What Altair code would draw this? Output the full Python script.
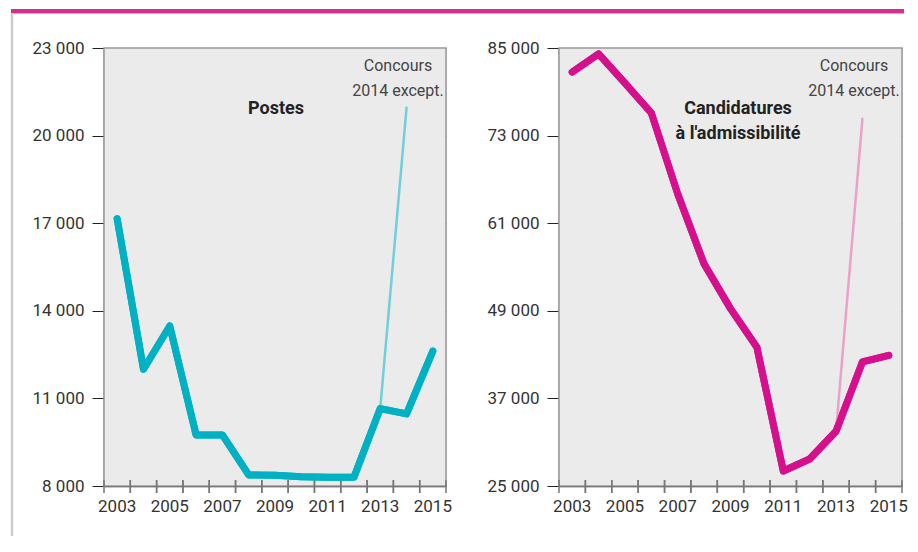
import altair as alt
import pandas as pd

years = list(range(2003, 2016))
postes = [17150, 12000, 13480, 9750, 9750, 8380, 8370, 8320, 8300, 8300, 10650, 10470, 12620]
candidatures = [81700, 84200, 80200, 76100, 65000, 55400, 49300, 44000, 27050, 28700, 32500, 42000, 42900]
except_years = [2013, 2014]
postes_except = [10650, 20950]
cand_except = [32500, 75300]

FONT = "Roboto"
W_L, W_R, H = 342, 343, 438

df_p = pd.DataFrame({"year": years, "v": postes})
df_pe = pd.DataFrame({"year": except_years, "v": postes_except})
df_c = pd.DataFrame({"year": years, "v": candidatures})
df_ce = pd.DataFrame({"year": except_years, "v": cand_except})
df_y = pd.DataFrame({"year": years})
one = pd.DataFrame({"a": [0]})

fmt = "replace(format(datum.value, ',d'), ',', ' ')"


def panel(df, dfe, domain, step, main_col, light_col, title_lines, title_x, title_y, width, frame=False):
    xscale = alt.Scale(type="band", domain=years, paddingInner=0, paddingOuter=0)
    xenc = alt.X("year:O", scale=xscale, bandPosition=0.5,
                 axis=alt.Axis(title=None, ticks=False, domain=True, domainColor="#222",
                               domainWidth=1.5, labelFont=FONT, labelFontSize=17,
                               labelColor="#333", labelAngle=0, labelPadding=12,
                               labelExpr="datum.value % 2 == 1 ? datum.value : ''"))
    yenc = alt.Y("v:Q", scale=alt.Scale(domain=domain, nice=False, zero=False),
                 axis=alt.Axis(title=None, values=list(range(domain[0], domain[1] + 1, step)),
                               labelExpr=fmt, labelFont=FONT, labelFontSize=17,
                               labelColor="#333", tickSize=12, tickColor="#222",
                               tickWidth=1, labelPadding=8, domainColor="#222",
                               domainWidth=1.5, grid=True, gridColor="#333",
                               gridWidth=1))
    base_x = alt.X("year:O", scale=xscale, bandPosition=0.5)
    bg = alt.Chart(one).mark_rect(fill="#ebebeb", stroke="#999", strokeWidth=1.5).encode(
        x=alt.value(0), x2=alt.value(width), y=alt.value(0), y2=alt.value(H))
    light = alt.Chart(dfe).mark_line(color=light_col, strokeWidth=2.5, strokeCap="round").encode(
        x=base_x, y=alt.Y("v:Q"))
    main = alt.Chart(df).mark_line(color=main_col, strokeWidth=7, strokeCap="round",
                                   strokeJoin="round").encode(x=xenc, y=yenc)
    ticks0 = alt.Chart(df_y).mark_rule(color="#777", strokeWidth=1.5).encode(
        x=alt.X("year:O", scale=xscale, bandPosition=0),
        y=alt.value(H - 6), y2=alt.value(H + 7))
    ticks1 = alt.Chart(df_y).mark_rule(color="#777", strokeWidth=1.5).encode(
        x=alt.X("year:O", scale=xscale, bandPosition=1),
        y=alt.value(H - 6), y2=alt.value(H + 7))
    title = alt.Chart(one).mark_text(font=FONT, fontSize=18, fontWeight="bold",
                                     color="#222", align="center", baseline="middle",
                                     lineHeight=25).encode(
        x=alt.value(title_x), y=alt.value(title_y), text=alt.value(title_lines))
    note = alt.Chart(one).mark_text(font=FONT, fontSize=16, color="#444", align="center",
                                    baseline="middle", lineHeight=25).encode(
        x=alt.value(width - 48), y=alt.value(18),
        text=alt.value(["Concours", "2014 except."]))
    layers = [bg, main, light, ticks0, ticks1, title, note, main]
    if frame:
        bar = alt.Chart(one).mark_rule(color="#d4308f", strokeWidth=4).encode(
            x=alt.value(-93), x2=alt.value(800), y=alt.value(-37), y2=alt.value(-37))
        barline = alt.Chart(one).mark_rule(color="#bbb", strokeWidth=1).encode(
            x=alt.value(-93), x2=alt.value(800), y=alt.value(-34.5), y2=alt.value(-34.5))
        side = alt.Chart(one).mark_rule(color="#ccc", strokeWidth=2.5).encode(
            x=alt.value(-92), y=alt.value(-35), y2=alt.value(H + 50))
        layers = [bar, barline, side] + layers
    return alt.layer(*layers).properties(width=width, height=H)


left = panel(df_p, df_pe, [8000, 23000], 3000, "#00b0c3", "#6fcfdc",
             "Postes", 172, 61, W_L, frame=True)
right = panel(df_c, df_ce, [25000, 85000], 12000, "#d6108c", "#eaa2c9",
              ["Candidatures", "à l'admissibilité"], 179, 61, W_R)

chart = alt.hconcat(left, right, spacing=113, bounds="flush").properties(
    padding={"left": 0, "top": 0, "right": 0, "bottom": 0}
).configure_view(fill="#ebebeb", stroke="#999", strokeWidth=1.5).configure(
    background="white")

chart.save("out.html", embed_options={"renderer": "svg", "actions": False})
